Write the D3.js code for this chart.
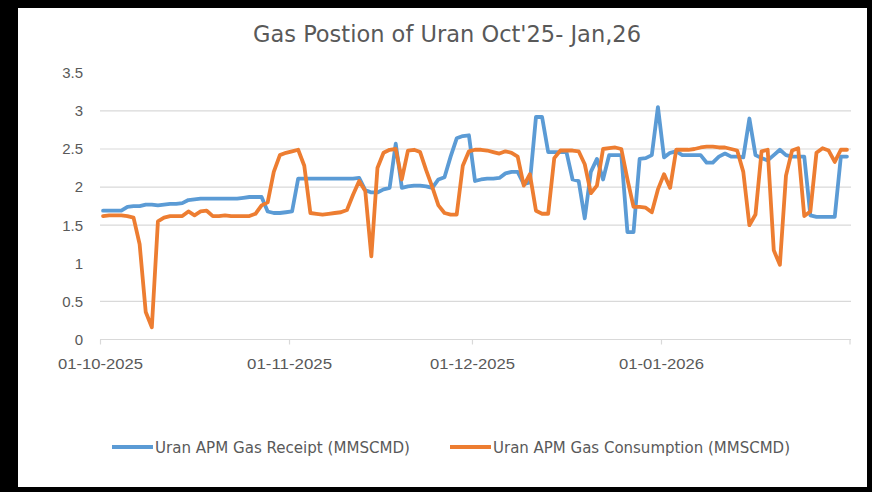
<!DOCTYPE html>
<html>
<head>
<meta charset="utf-8">
<script src="https://cdn.jsdelivr.net/npm/d3@7"></script>
<style>
  html, body { margin: 0; padding: 0; background: #000; }
  svg { display: block; }
  text { font-family: "Liberation Sans Narrow", "DejaVu Sans Condensed", "Liberation Sans", sans-serif; fill: #595959; }
</style>
</head>
<body>
<svg id="chart" width="872" height="492"></svg>
<script>
// ---- data ----
const title = "Gas Postion of Uran Oct'25- Jan,26";
const startDate = Date.UTC(2025, 9, 1);   // 01-10-2025, one value per day
const receipt = [
  1.69,1.69,1.69,1.69,
  1.74,1.75,1.75,1.77,1.77,1.76,1.77,1.78,1.78,1.79,
  1.83,1.84,1.85,1.85,1.85,1.85,1.85,1.85,1.85,1.86,1.87,1.87,1.87,
  1.68,1.66,1.66,1.67,1.68,2.11,
  2.11,2.11,2.11,2.11,2.11,2.11,2.11,2.11,2.11,2.12,
  1.96,1.93,1.93,1.97,1.99,2.57,1.99,
  2.01,2.02,2.02,2.01,1.99,2.10,2.13,
  2.40,2.64,2.67,2.68,2.08,
  2.10,2.11,2.11,2.12,2.18,2.20,2.20,
  2.04,2.06,2.92,2.92,2.46,2.46,2.46,2.46,
  2.10,2.08,1.59,2.20,2.37,2.10,2.42,2.42,2.42,
  1.41,1.41,2.37,2.38,2.42,3.05,2.39,2.45,2.47,
  2.42,2.42,2.42,2.42,2.32,2.32,
  2.40,2.44,2.40,2.40,2.39,2.90,2.42,2.38,2.35,2.42,
  2.49,2.42,2.40,2.40,2.40,1.63,1.61,1.61,1.61,1.61,2.40,2.40
];
const consumption = [
  1.62,1.63,1.63,1.63,1.62,1.60,
  1.25,0.36,0.16,1.55,
  1.60,1.62,1.62,1.62,1.68,1.63,1.68,1.69,
  1.62,1.62,1.63,1.62,1.62,1.62,1.62,1.65,
  1.76,1.80,2.20,2.42,2.45,2.47,2.49,2.28,
  1.66,1.65,1.64,1.65,1.66,1.67,1.70,
  1.90,2.08,1.95,1.09,2.25,2.45,2.49,2.50,2.10,
  2.48,2.49,2.46,2.22,2.00,1.76,1.66,1.64,1.64,
  2.28,2.47,2.49,2.49,2.48,2.46,2.44,2.47,2.45,2.40,
  2.02,2.17,1.69,1.65,1.65,2.38,2.48,2.48,2.48,2.47,
  2.30,1.92,2.02,2.50,2.51,2.52,2.50,
  2.10,1.74,1.74,1.73,1.67,1.97,2.17,1.99,
  2.49,2.49,2.49,2.50,2.52,2.53,2.53,2.52,2.52,2.50,2.48,
  2.20,1.50,1.64,2.47,2.49,1.17,0.98,2.15,
  2.48,2.51,1.62,1.68,2.45,2.51,2.48,2.33,2.49,2.49
];
const seriesNames = ["Uran APM Gas Receipt (MMSCMD)", "Uran APM Gas Consumption (MMSCMD)"];
const seriesColors = ["#5B9BD5", "#ED7D31"];
const yTicks = [0, 0.5, 1, 1.5, 2, 2.5, 3, 3.5];
const gridValues = [0.5, 1.5, 2, 2.5, 3];
const xTickDates = [Date.UTC(2025,9,1), Date.UTC(2025,10,1), Date.UTC(2025,11,1), Date.UTC(2026,0,1)];
const xTickLabels = ["01-10-2025", "01-11-2025", "01-12-2025", "01-01-2026"];
const axisEnd = Date.UTC(2026,1,1);

// ---- drawing ----
const svg = d3.select("#chart");
svg.append("rect").attr("x",0).attr("y",0).attr("width",872).attr("height",492).attr("fill","#000");
svg.append("rect").attr("x",18).attr("y",8).attr("width",849).attr("height",479).attr("fill","#fff");

const x = d3.scaleUtc().domain([new Date(startDate), new Date(axisEnd)]).range([100, 850]);
const y = d3.scaleLinear().domain([0, 3.5]).range([339.5, 72.8]);

const dayPos = i => new Date(startDate + (i + 0.5) * 86400000);

// gridlines
svg.append("g").selectAll("line").data(gridValues).join("line")
  .attr("x1", 100).attr("x2", 851)
  .attr("y1", d => y(d)).attr("y2", d => y(d))
  .attr("stroke", "#d9d9d9").attr("stroke-width", 1.2);

// y axis labels
const yAxis = d3.axisLeft(y).tickValues(yTicks).tickSize(0).tickPadding(0).tickFormat(d3.format("~g"));
const gy = svg.append("g").attr("transform", "translate(83,0)").call(yAxis);
gy.select(".domain").remove();
gy.selectAll("text").attr("font-size", 15).attr("fill", "#595959")
  .style("font-family", '"Liberation Sans", Arial, sans-serif');

// x axis
const xAxis = d3.axisBottom(x).tickValues(xTickDates.map(d => new Date(d)))
  .tickSize(5).tickPadding(14).tickFormat((d, i) => xTickLabels[i]);
const gx = svg.append("g").attr("transform", "translate(0,339.5)").call(xAxis);
gx.select(".domain").attr("stroke", "#d9d9d9").attr("stroke-width", 1.2)
  .attr("d", "M100,0H851");
gx.selectAll(".tick line").attr("stroke", "#d9d9d9").attr("stroke-width", 1.2);
gx.selectAll("text").attr("font-size", 15).attr("fill", "#595959")
  .style("font-family", '"Liberation Sans", Arial, sans-serif')
  .attr("textLength", 85).attr("lengthAdjust", "spacingAndGlyphs");
// end tick
gx.append("line").attr("x1", x(new Date(axisEnd))).attr("x2", x(new Date(axisEnd)))
  .attr("y1", 0).attr("y2", 5).attr("stroke", "#d9d9d9").attr("stroke-width", 1.2);

// lines
const line = d3.line().x((d, i) => x(dayPos(i))).y(d => y(d));
[receipt, consumption].forEach((s, k) => {
  svg.append("path").datum(s)
    .attr("d", line)
    .attr("fill", "none")
    .attr("stroke", seriesColors[k])
    .attr("stroke-width", 3.8)
    .attr("stroke-linejoin", "round")
    .attr("stroke-linecap", "round");
});

// title
svg.append("text").attr("x", 447).attr("y", 42).attr("text-anchor", "middle")
  .attr("font-size", 23).attr("fill", "#595959")
  .attr("textLength", 388).attr("lengthAdjust", "spacingAndGlyphs")
  .text(title);

// legend
const legend = [
  { x1: 112, x2: 153, tx: 155, tw: 255 },
  { x1: 450, x2: 491, tx: 493, tw: 297 }
];
legend.forEach((l, k) => {
  svg.append("line").attr("x1", l.x1).attr("x2", l.x2).attr("y1", 447).attr("y2", 447)
    .attr("stroke", seriesColors[k]).attr("stroke-width", 4);
  svg.append("text").attr("x", l.tx).attr("y", 453).attr("font-size", 16)
    .attr("fill", "#595959")
    .attr("textLength", l.tw).attr("lengthAdjust", "spacingAndGlyphs")
    .text(seriesNames[k]);
});
</script>
</body>
</html>
